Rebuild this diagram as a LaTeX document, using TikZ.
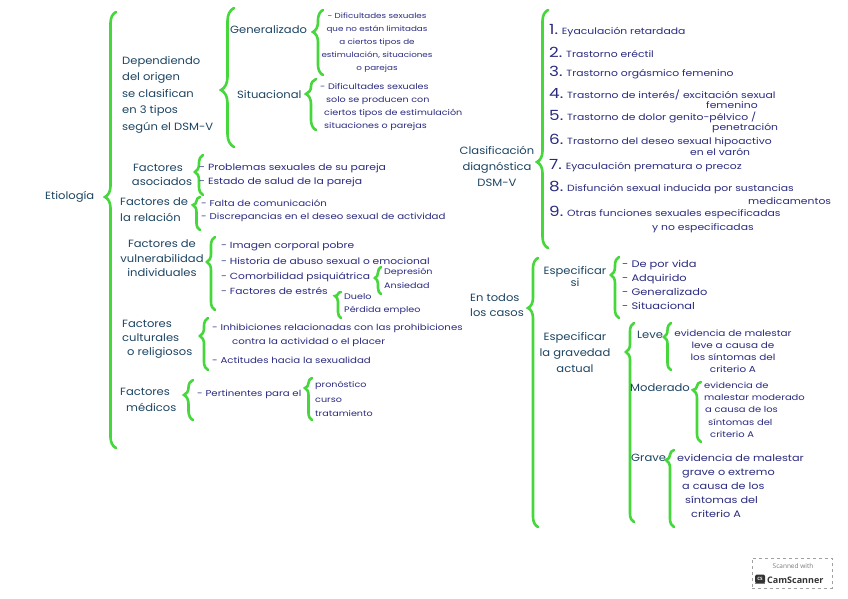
\documentclass[tikz,border=0pt]{standalone}
\usepackage{fontspec}
\setmainfont{Poppins}[FakeStretch=1.2]
\newfontfamily\hdfont{Poppins}[FakeStretch=1.1]
\newfontfamily\badgefont{Open Sans}
\usetikzlibrary{decorations.pathreplacing}
\definecolor{gbc}{RGB}{70,215,60}
\definecolor{headc}{RGB}{28,68,98}
\definecolor{itemc}{RGB}{42,42,128}
\definecolor{badgeg}{RGB}{120,120,120}
\tikzset{
  gbr/.style={draw=gbc, line width=2.6pt, line cap=round, decorate},
  hd/.style={inner sep=0pt, text=headc, font=\hdfont\fontsize{10.5}{16}\selectfont},
  it/.style={inner sep=0pt, text=itemc, font=\fontsize{8.5}{13}\selectfont},
  itb/.style={inner sep=0pt, text=itemc, font=\fontsize{9}{14}\selectfont},
}
% [amplitude]{x of ends}{y top}{y bottom}{y tip}
\newcommand\gbrc[5][9]{%
  \pgfmathsetmacro\gbasp{(#4-#5)/(#4-#3)}%
  \draw[gbr, decoration={brace, amplitude=#1pt, aspect=\gbasp}] (#2,#4) -- (#2,#3);}
\newcommand\nm[1]{{\fontsize{14}{14}\selectfont #1}}
\begin{document}
\begin{tikzpicture}[x=1pt,y=-1pt]
\useasboundingbox (0,0) rectangle (848,599);

% ---------------- left part ----------------
\node[hd, anchor=west] (etio) at (45,197) {Etiología};
\gbrc[11]{116}{12}{448}{197}

\node[hd, anchor=north west, align=left, font=\hdfont\fontsize{10.5}{16.5}\selectfont] (dep) at (122,56)
  {Dependiendo\\del origen\\se clasifican\\en 3 tipos\\según el DSM-V};
\gbrc[13]{234}{8}{147}{90}

\node[hd, anchor=west] (gen) at (230,30) {Generalizado};
\gbrc[10]{323}{10}{75}{32}
\node[it, anchor=north, align=center, font=\fontsize{7.3}{13}\selectfont] (gentx) at (377,13)
  {- Dificultades sexuales\\que no están limitadas\\a ciertos tipos de\\estimulación, situaciones\\o parejas};

\node[hd, anchor=west] (sit) at (237,95) {Situacional};
\gbrc[10]{316}{79}{130}{94}
\node[it, anchor=north west, align=left, font=\fontsize{8}{13}\selectfont] (sittx) at (320,83)
  {- Dificultades sexuales\\\hspace{6pt}solo se producen con\\\hspace{4pt}ciertos tipos de estimulación\\\hspace{4pt}situaciones o parejas};

\node[hd, anchor=north, align=center, font=\hdfont\fontsize{10.5}{14}\selectfont] (aso) at (158,164) {Factores\\\hspace{8pt}asociados};
\gbrc[8]{203}{155}{195}{172}
\node[itb, anchor=north west, align=left] (asotx) at (199,163)
  {- Problemas sexuales de su pareja\\- Estado de salud de la pareja};

\node[hd, anchor=north west, align=left] (rel) at (120,198) {Factores de\\la relación};
\gbrc[7]{200}{197}{230}{205}
\node[it, anchor=north west, align=left] (reltx) at (201,200)
  {- Falta de comunicación\\- Discrepancias en el deseo sexual de actividad};

\node[hd, anchor=north, align=center, font=\hdfont\fontsize{10.5}{14.5}\selectfont] (vul) at (162,240)
  {Factores de\\vulnerabilidad\\individuales};
\gbrc[8]{215}{237}{310}{262}
\node[itb, anchor=north west, align=left, font=\fontsize{8.9}{15.4}\selectfont] (vultx) at (221,242)
  {- Imagen corporal pobre\\- Historia de abuso sexual o emocional\\- Comorbilidad psiquiátrica\\- Factores de estrés};
\gbrc[6]{381}{267}{294}{278}
\node[it, anchor=north west, align=left, font=\fontsize{8}{14}\selectfont] (comtx) at (384,268) {Depresión\\Ansiedad};
\gbrc[6]{341}{292}{318}{296}
\node[it, anchor=north west, align=left, font=\fontsize{8}{13}\selectfont] (esttx) at (344,293) {Duelo\\Pérdida empleo};

\node[hd, anchor=north west, align=left, font=\hdfont\fontsize{10.5}{14}\selectfont] (cul) at (122,320)
  {Factores\\culturales\\\hspace{5pt}o religiosos};
\gbrc[8]{208}{318}{370}{336}
\node[it, anchor=west] (cul1) at (212,328) {- Inhibiciones relacionadas con las prohibiciones};
\node[it, anchor=west] (cul2) at (232,342) {contra la actividad o el placer};
\node[it, anchor=west] (cul3) at (212,360) {- Actitudes hacia la sexualidad};

\node[hd, anchor=north west, align=left] (med) at (120,388) {Factores\\\hspace{6pt}médicos};
\gbrc[9]{193}{380}{420}{395}
\node[it, anchor=west] (medtx) at (197,394) {- Pertinentes para el};
\gbrc[7]{312}{378}{420}{388}
\node[it, anchor=north west, align=left, font=\fontsize{8}{14.5}\selectfont] (medsub) at (315,381)
  {pronóstico\\curso\\tratamiento};

% ---------------- right part ----------------
\node[hd, anchor=north, align=center] (clas) at (497,146) {Clasificación\\diagnóstica\\DSM-V};
\gbrc[11]{548}{10}{248}{162}
\node[itb, anchor=west] (c1) at (549,31) {\nm{1.} Eyaculación retardada};
\node[itb, anchor=west] (c2) at (549,52) {\nm{2.} Trastorno eréctil};
\node[itb, anchor=west] (c3) at (549,73) {\nm{3.} Trastorno orgásmico femenino};
\node[itb, anchor=west] (c4) at (549,94) {\nm{4.} Trastorno de interés/ excitación sexual};
\node[itb, anchor=west] (c4b) at (706,105) {femenino};
\node[itb, anchor=west] (c5) at (549,117) {\nm{5.} Trastorno de dolor genito-pélvico /};
\node[itb, anchor=west] (c5b) at (712,128) {penetración};
\node[itb, anchor=west] (c6) at (549,141) {\nm{6.} Trastorno del deseo sexual hipoactivo};
\node[itb, anchor=west] (c6b) at (690,152) {en el varón};
\node[itb, anchor=west] (c7) at (549,166) {\nm{7.} Eyaculación prematura o precoz};
\node[itb, anchor=west] (c8) at (549,188) {\nm{8.} Disfunción sexual inducida por sustancias};
\node[itb, anchor=west] (c8b) at (748,201) {medicamentos};
\node[itb, anchor=west] (c9) at (549,213) {\nm{9.} Otras funciones sexuales especificadas};
\node[itb, anchor=west] (c9b) at (652,228) {y no especificadas};

\node[hd, anchor=north west, align=left, font=\hdfont\fontsize{10.5}{15}\selectfont] (todos) at (470,294) {En todos\\los casos};
\gbrc[10]{538}{258}{527}{308}

\node[hd, anchor=north, align=center, font=\hdfont\fontsize{10.5}{12}\selectfont] (esp) at (575,266) {Especificar\\si};
\gbrc[8]{619}{257}{318}{275}
\node[it, anchor=north west, align=left, font=\fontsize{9.5}{14}\selectfont] (esptx) at (622,260)
  {- De por vida\\- Adquirido\\- Generalizado\\- Situacional};

\node[hd, anchor=north, align=center] (grav) at (575,332) {Especificar\\la gravedad\\actual};
\gbrc[8]{634}{323}{522}{352}

\node[hd, anchor=west] (leve) at (637,335) {Leve};
\gbrc[7]{671}{323}{370}{337}
\node[it, anchor=north, align=center, font=\fontsize{8.7}{12}\selectfont] (levetx) at (733,330)
  {evidencia de malestar\\leve a causa de\\los síntomas del\\criterio A};

\node[hd, anchor=west] (mod) at (630,388) {Moderado};
\gbrc[8]{701}{382}{442}{390}
\node[it, anchor=north west, align=left, font=\fontsize{8.3}{12.2}\selectfont] (modtx) at (704,382)
  {evidencia de\\malestar moderado\\\hspace{1pt}a causa de los\\\hspace{4pt}síntomas del\\\hspace{6pt}criterio A};

\node[hd, anchor=west] (grave) at (631,458) {Grave};
\gbrc[8]{674}{450}{527}{460}
\node[it, anchor=north west, align=left, font=\fontsize{9.4}{14}\selectfont] (gravetx) at (677,454)
  {evidencia de malestar\\\hspace{5pt}grave o extremo\\\hspace{5pt}a causa de los\\\hspace{8pt}síntomas del\\\hspace{14pt}criterio A};

% ---------------- scanner badge ----------------
\node[draw=badgeg!70, dashed, line width=0.5pt, minimum width=80pt, minimum height=30pt, inner sep=0pt] (badge) at (792,573) {};
\node[inner sep=0pt, text=badgeg, font=\badgefont\fontsize{6.5}{7}\selectfont] (scw) at (793,566) {Scanned with};
\node[inner sep=0pt, fill=black!80, rounded corners=1.5pt, minimum width=10pt, minimum height=9pt,
      text=white, font=\badgefont\bfseries\fontsize{4.5}{5}\selectfont] (csicon) at (760,579) {CS};
\draw[draw=gbc!80!black, line width=1pt] (csicon.south west) -- (csicon.south east);
\node[inner sep=0pt, anchor=west, text=black!80, font=\badgefont\bfseries\fontsize{9}{10}\selectfont] (csname) at (767,580) {CamScanner};
\end{tikzpicture}
\end{document}
